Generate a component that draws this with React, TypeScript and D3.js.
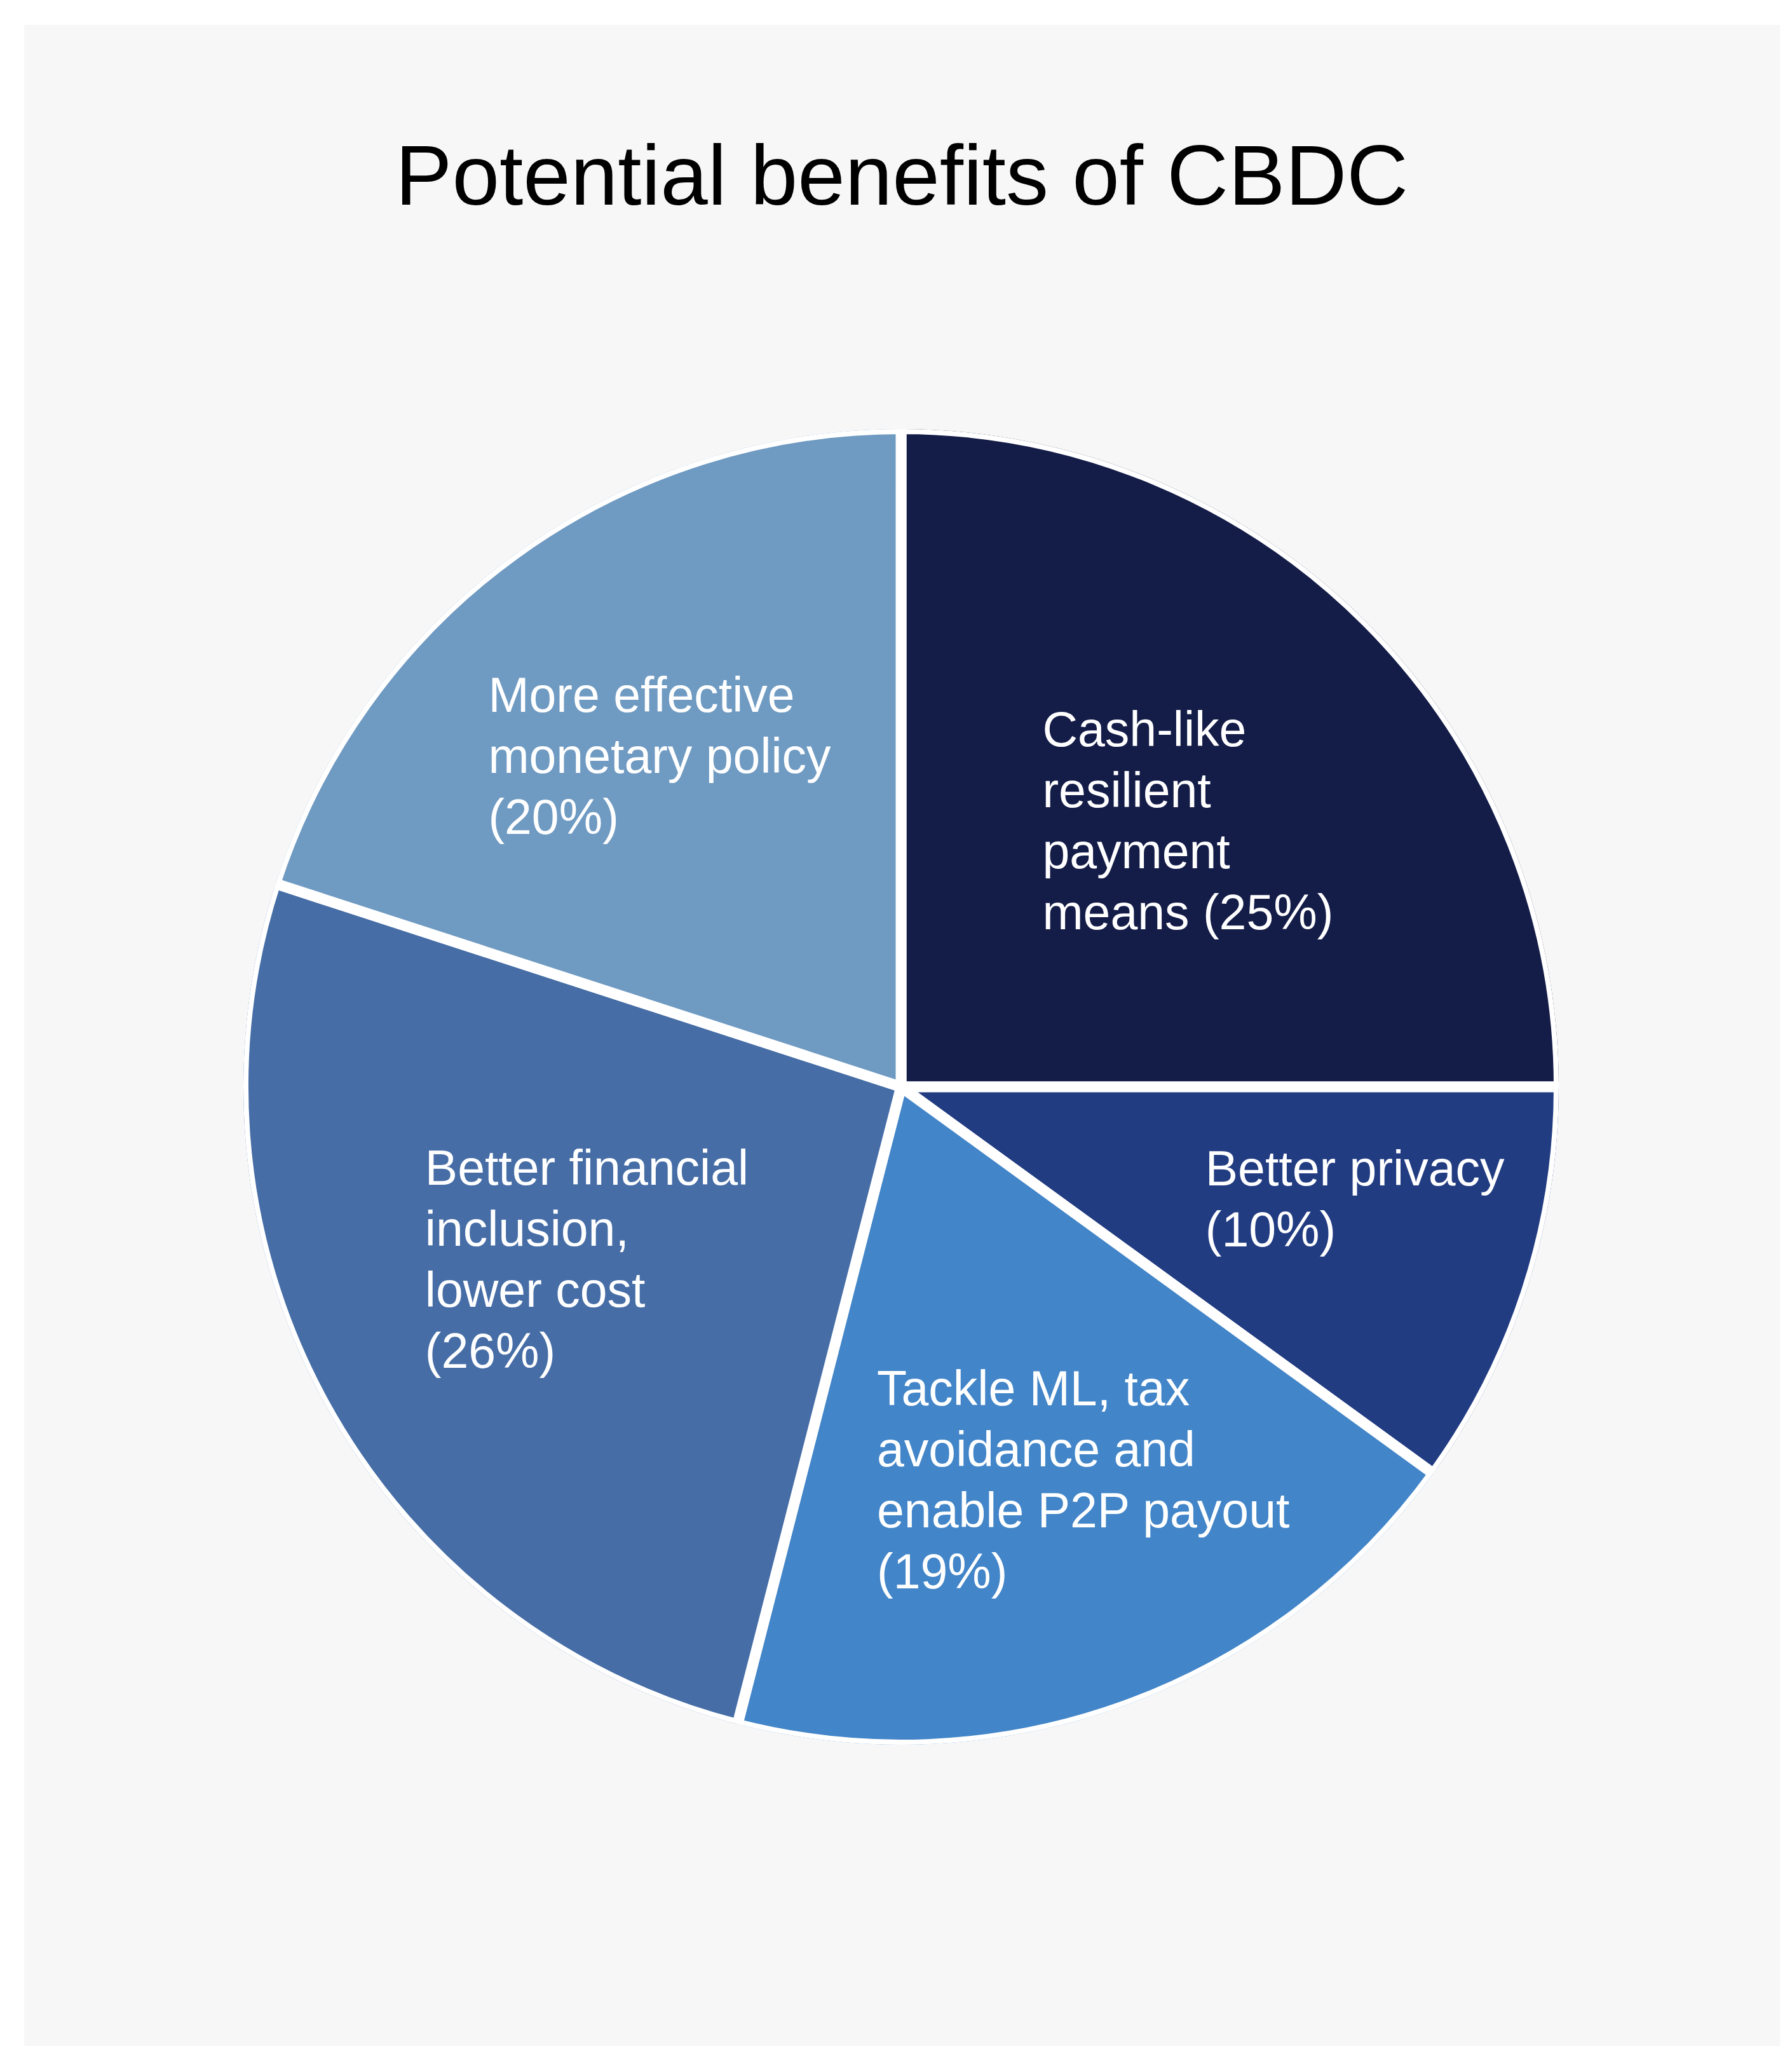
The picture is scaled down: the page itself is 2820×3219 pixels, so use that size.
import React, { useEffect, useRef } from 'react';
import * as d3 from 'd3';

// ---- data ----
const title = 'Potential benefits of CBDC';
const categories = [
  'Cash-like resilient payment means',
  'Better privacy',
  'Tackle ML, tax avoidance and enable P2P payout',
  'Better financial inclusion, lower cost',
  'More effective monetary policy',
];
const values = [25, 10, 19, 26, 20];
const labelLines = [
  ['Cash-like', 'resilient', 'payment', 'means (25%)'],
  ['Better privacy', '(10%)'],
  ['Tackle ML, tax', 'avoidance and', 'enable P2P payout', '(19%)'],
  ['Better financial', 'inclusion,', 'lower cost', '(26%)'],
  ['More effective', 'monetary policy', '(20%)'],
];
const colors = ['#141c48', '#223c82', '#4285c8', '#466da6', '#6f9ac2'];

// ---- layout ----
const labelRadiusFrac = [0.6, 0.716, 0.663, 0.549, 0.628];
const labelAngleShift = [2.1, -4.2, -5.1, 0.1, -0.1];

const W = 2820;
const H = 3219;
const CX = 1418;
const CY = 1710;
const R = 1027;
const GAP = 17;
const FONT = '"Liberation Sans", Arial, Helvetica, sans-serif';
const LABEL_FS = 77;
const LINE_H = 96;

export default function App() {
  const ref = useRef<SVGSVGElement | null>(null);

  useEffect(() => {
    const svg = d3.select(ref.current);
    svg.selectAll('*').remove();

    svg
      .append('rect')
      .attr('x', 38)
      .attr('y', 39)
      .attr('width', 2763)
      .attr('height', H - 39)
      .attr('fill', '#f7f7f7');

    svg
      .append('text')
      .attr('x', 1419)
      .attr('y', 322)
      .attr('text-anchor', 'middle')
      .attr('font-family', FONT)
      .attr('font-size', 134)
      .attr('fill', '#000')
      .text(title);

    const defs = svg.append('defs');
    defs
      .append('clipPath')
      .attr('id', 'pieclip')
      .append('circle')
      .attr('cx', 0)
      .attr('cy', 0)
      .attr('r', R + GAP / 2 - 0.5);

    const g = svg.append('g').attr('transform', `translate(${CX},${CY})`);
    const pg = g.append('g').attr('clip-path', 'url(#pieclip)');

    pg.append('circle').attr('r', R + GAP).attr('fill', '#ffffff');

    const pie = d3
      .pie<number>()
      .sort(null)
      .value((d) => d);
    const arcs = pie(values);
    const arc = d3
      .arc<d3.PieArcDatum<number>>()
      .innerRadius(0)
      .outerRadius(R + GAP / 2);

    pg.selectAll('path.slice')
      .data(arcs)
      .enter()
      .append('path')
      .attr('class', 'slice')
      .attr('d', (d) => arc(d) as string)
      .attr('fill', (_d, i) => colors[i])
      .attr('stroke', '#ffffff')
      .attr('stroke-width', GAP)
      .attr('stroke-linejoin', 'round')
      .append('title')
      .text((_d, i) => categories[i]);

    const capH = LABEL_FS * 0.716;
    arcs.forEach((d, i) => {
      const a = (d.startAngle + d.endAngle) / 2 + (labelAngleShift[i] * Math.PI) / 180;
      const r = labelRadiusFrac[i] * R;
      const tx = r * Math.sin(a);
      const ty = -r * Math.cos(a);
      const lines = labelLines[i];
      const t = g
        .append('text')
        .attr('font-family', FONT)
        .attr('font-size', LABEL_FS)
        .attr('fill', '#ffffff');
      const spans = t
        .selectAll('tspan')
        .data(lines)
        .enter()
        .append('tspan')
        .text((s) => s);
      let maxW = 0;
      spans.each(function () {
        const w = (this as SVGTSpanElement).getComputedTextLength();
        if (w > maxW) maxW = w;
      });
      const blockH = capH + (lines.length - 1) * LINE_H;
      const x0 = tx - maxW / 2;
      const y0 = ty - blockH / 2 + capH;
      spans.attr('x', x0).attr('y', (_s, j) => y0 + j * LINE_H);
    });
  }, []);

  return (
    <svg
      ref={ref}
      width={W}
      height={H}
      style={{ position: 'absolute', left: 0, top: 0, display: 'block', background: '#ffffff' }}
    />
  );
}
